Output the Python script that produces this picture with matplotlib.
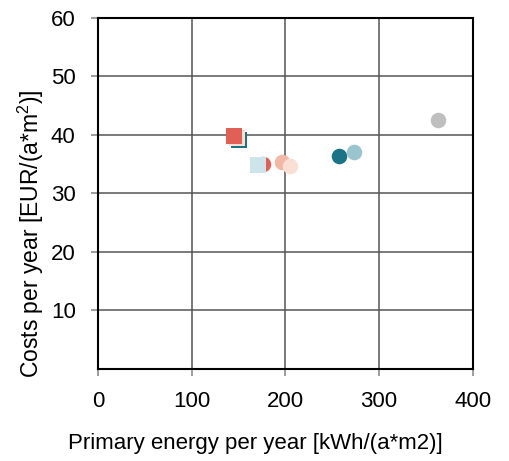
import matplotlib.pyplot as plt

plt.rcParams['font.family'] = ['Liberation Sans', 'DejaVu Sans']
plt.rcParams['mathtext.fontset'] = 'custom'
plt.rcParams['mathtext.rm'] = 'Liberation Sans'
plt.rcParams['mathtext.default'] = 'regular'

# draw order: later entries on top
energy = [151, 148, 145, 176, 171, 196, 205, 257, 273, 363]
costs = [39.2, 39.5, 39.8, 35.0, 34.9, 35.3, 34.7, 36.4, 37.0, 42.6]
markers = ['s', 's', 's', 'o', 's', 'o', 'o', 'o', 'o', 'o']
colors = ['#1a7386', '#fadfd5', '#e06055', '#e06055', '#cde4ea',
          '#f2b8a5', '#fadfd5', '#1a7386', '#9ac5cf', '#bfbfbf']

x_ticks = [0, 100, 200, 300, 400]
y_ticks = [10, 20, 30, 40, 50, 60]

fig = plt.figure(figsize=(5.1, 4.61), dpi=100)
ax = fig.add_axes([0.192, 0.2, 0.735, 0.761])

for x, y, m, c in zip(energy, costs, markers, colors):
    ax.scatter(x, y, marker=m, s=125, color=c, linewidths=0, zorder=3)

ax.set_xlim(0, 400)
ax.set_ylim(0, 60)
ax.set_xticks(x_ticks)
ax.set_yticks(y_ticks)
ax.grid(True, color='#555555', linewidth=1.1)
ax.set_axisbelow(True)
for side in ['top', 'right', 'left', 'bottom']:
    ax.spines[side].set_color('black')
    ax.spines[side].set_linewidth(1.5)
ax.tick_params(axis='both', direction='out', length=5, color='#8c8c8c',
               width=1.2, labelsize=16, pad=11)

fig.text(255 / 510, 1 - 443 / 461, 'Primary energy per year [kWh/(a*m2)]',
         fontsize=16, ha='center', va='center')
fig.text(31 / 510, 1 - 234 / 461, 'Costs per year [EUR/(a*m$^2$)]',
         fontsize=16.5, rotation=90, ha='center', va='center')

fig.savefig('out.png', dpi=100)
